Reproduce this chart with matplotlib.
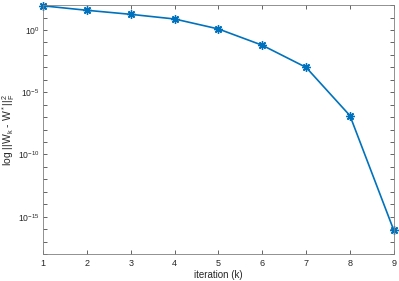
import math
import matplotlib.pyplot as plt
import matplotlib.ticker as mticker

plt.rcParams['font.family'] = ['Liberation Sans', 'DejaVu Sans']
plt.rcParams['mathtext.fontset'] = 'custom'
plt.rcParams['mathtext.rm'] = 'Liberation Sans'
plt.rcParams['mathtext.it'] = 'Liberation Sans'

# iteration and error values
iters = [1, 2, 3, 4, 5, 6, 7, 8, 9]
err = [87, 38, 18, 7.6, 1.2, 0.059, 9.8e-4, 1.3e-7, 8e-17]

blue = '#0072BD'
grey = '#262626'

fig = plt.figure(figsize=(3.99, 2.81), dpi=100)
ax = fig.add_axes([0.108, 0.096, 0.879, 0.886])

ax.semilogy(iters, err, color=blue, lw=1.2, marker=(8, 2, 0), ms=6, mew=1.0,
            clip_on=False)

ax.set_xlim(1, 9)
ax.set_ylim(1e-18, 1e2)
ax.set_xticks(iters)
ax.yaxis.set_major_locator(mticker.FixedLocator([1e0, 1e-5, 1e-10, 1e-15]))
ax.yaxis.set_minor_locator(mticker.FixedLocator([10.0 ** k for k in range(-18, 3)]))
ax.yaxis.set_minor_formatter(mticker.NullFormatter())
ax.yaxis.set_major_formatter(mticker.FuncFormatter(
    lambda v, p: r'10$^{%d}$' % round(math.log10(v))))

ax.tick_params(which='both', direction='in', colors=grey, labelsize=6.5,
               top=True, right=True, length=3, width=0.5)
ax.tick_params(axis='y', labelsize=6.2, pad=2.5)
for s in ax.spines.values():
    s.set_color('#7f7f7f')
    s.set_linewidth(0.6)

ax.set_xlabel('iteration (k)', fontsize=7, color=grey, labelpad=1.5)
ax.set_ylabel(r'log ||W$_k$ - W$^*$||$_F^2$', fontsize=7.5, color=grey)
ax.yaxis.set_label_coords(-0.075, 0.5)

fig.savefig('out.png', dpi=100)
